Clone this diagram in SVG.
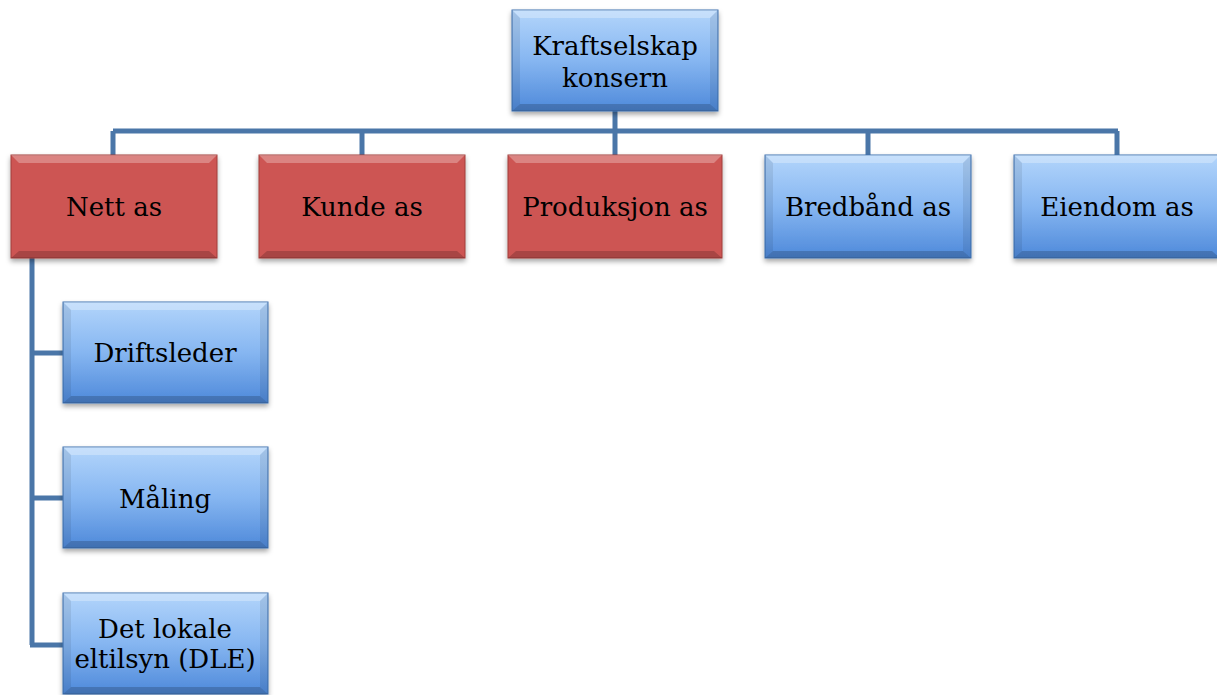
<svg xmlns="http://www.w3.org/2000/svg" width="1217" height="695" viewBox="0 0 1217 695">
<defs>
<linearGradient id="gBlue" x1="0" y1="0" x2="0" y2="1">
<stop offset="0" stop-color="#b3d5fb"/>
<stop offset="0.5" stop-color="#86b6f1"/>
<stop offset="1" stop-color="#4e89da"/>
</linearGradient>
<filter id="sh" x="-10%" y="-10%" width="120%" height="130%">
<feDropShadow dx="0" dy="3" stdDeviation="2.5" flood-color="#000" flood-opacity="0.35"/>
</filter>
<style>
.blue{fill:url(#gBlue);stroke:#3f70b0;stroke-width:1}
.red{fill:#cd5553;stroke:#a03c3a;stroke-width:1}
.hl{fill:#ffffff;opacity:0.28}
.dk{fill:#000000;opacity:0.18}
.sd{fill:#000000;opacity:0.08}
.t{font-family:"DejaVu Serif","Liberation Serif",serif;font-size:26px;fill:#000;text-anchor:middle}
.c{fill:none;stroke:#4a76a8;stroke-width:5}
</style>
</defs>
<g id="connectors">
<path class="c" d="M615,111 V131 M113,131 H1118 M113,131 V156 M362,131 V156 M615,131 V156 M868,131 V156 M1117,131 V156"/>
<path class="c" d="M32,258 V645 M30,353 H64 M30,498 H64 M30,645 H64"/>
</g>
<g id="n-top">
<rect class="blue" x="512" y="10" width="206" height="101" filter="url(#sh)"/>
<polygon class="hl" points="512,10 718,10 710,18 520,18"/>
<polygon class="dk" points="512,111 718,111 710,104 520,104"/>
<polygon class="sd" points="512,10 520,18 520,104 512,111"/>
<polygon class="sd" points="718,10 710,18 710,104 718,111"/>
<text class="t" x="615" y="55">Kraftselskap</text>
<text class="t" x="615" y="87">konsern</text>
</g>
<g id="n-nett">
<rect class="red" x="11" y="155" width="206" height="103" filter="url(#sh)"/>
<polygon class="hl" points="11,155 217,155 209,163 19,163"/>
<polygon class="dk" points="11,258 217,258 209,251 19,251"/>
<text class="t" x="114" y="216">Nett as</text>
</g>
<g id="n-kunde">
<rect class="red" x="259" y="155" width="206" height="103" filter="url(#sh)"/>
<polygon class="hl" points="259,155 465,155 457,163 267,163"/>
<polygon class="dk" points="259,258 465,258 457,251 267,251"/>
<text class="t" x="362" y="216">Kunde as</text>
</g>
<g id="n-produksjon">
<rect class="red" x="508" y="155" width="214" height="103" filter="url(#sh)"/>
<polygon class="hl" points="508,155 722,155 714,163 516,163"/>
<polygon class="dk" points="508,258 722,258 714,251 516,251"/>
<text class="t" x="615" y="216">Produksjon as</text>
</g>
<g id="n-bredband">
<rect class="blue" x="765" y="155" width="206" height="103" filter="url(#sh)"/>
<polygon class="hl" points="765,155 971,155 963,163 773,163"/>
<polygon class="dk" points="765,258 971,258 963,251 773,251"/>
<polygon class="sd" points="765,155 773,163 773,251 765,258"/>
<polygon class="sd" points="971,155 963,163 963,251 971,258"/>
<text class="t" x="868" y="216">Bredbånd as</text>
</g>
<g id="n-eiendom">
<rect class="blue" x="1014" y="155" width="206" height="103" filter="url(#sh)"/>
<polygon class="hl" points="1014,155 1220,155 1212,163 1022,163"/>
<polygon class="dk" points="1014,258 1220,258 1212,251 1022,251"/>
<polygon class="sd" points="1014,155 1022,163 1022,251 1014,258"/>
<text class="t" x="1117" y="216">Eiendom as</text>
</g>
<g id="n-driftsleder">
<rect class="blue" x="63" y="302" width="205" height="101" filter="url(#sh)"/>
<polygon class="hl" points="63,302 268,302 260,310 71,310"/>
<polygon class="dk" points="63,403 268,403 260,396 71,396"/>
<polygon class="sd" points="63,302 71,310 71,396 63,403"/>
<polygon class="sd" points="268,302 260,310 260,396 268,403"/>
<text class="t" x="165" y="362">Driftsleder</text>
</g>
<g id="n-maling">
<rect class="blue" x="63" y="447" width="205" height="101" filter="url(#sh)"/>
<polygon class="hl" points="63,447 268,447 260,455 71,455"/>
<polygon class="dk" points="63,548 268,548 260,541 71,541"/>
<polygon class="sd" points="63,447 71,455 71,541 63,548"/>
<polygon class="sd" points="268,447 260,455 260,541 268,548"/>
<text class="t" x="165" y="508">Måling</text>
</g>
<g id="n-dle">
<rect class="blue" x="63" y="593" width="205" height="101" filter="url(#sh)"/>
<polygon class="hl" points="63,593 268,593 260,601 71,601"/>
<polygon class="dk" points="63,694 268,694 260,687 71,687"/>
<polygon class="sd" points="63,593 71,601 71,687 63,694"/>
<polygon class="sd" points="268,593 260,601 260,687 268,694"/>
<text class="t" x="165" y="638">Det lokale</text>
<text class="t" x="165" y="668">eltilsyn (DLE)</text>
</g>
</svg>
